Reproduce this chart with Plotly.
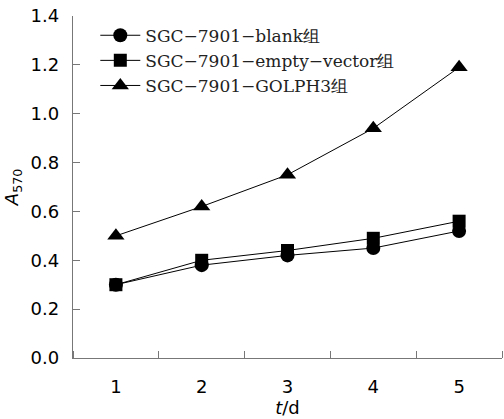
import plotly.graph_objects as go

days = [1, 2, 3, 4, 5]
names = ["SGC−7901−blank组", "SGC−7901−empty−vector组", "SGC−7901−GOLPH3组"]
blank = [0.30, 0.38, 0.42, 0.45, 0.52]
empty_vector = [0.30, 0.40, 0.44, 0.49, 0.56]
golph3 = [0.50, 0.62, 0.75, 0.94, 1.19]
y_ticks = [0.0, 0.2, 0.4, 0.6, 0.8, 1.0, 1.2, 1.4]

series = [(names[0], blank, "circle", 14), (names[1], empty_vector, "square", 13), (names[2], golph3, "triangle-up", 15)]

fig = go.Figure()
for nm, vals, sym, sz in series:
    fig.add_trace(go.Scatter(x=days, y=vals, name=nm, mode="lines+markers",
                             line=dict(color="black", width=1),
                             marker=dict(symbol=sym, size=sz, color="black")))

axcol = "#777"
fig.update_layout(
    width=504, height=419, margin=dict(l=73, r=2, t=16, b=61),
    plot_bgcolor="white", paper_bgcolor="white",
    font=dict(family="DejaVu Sans", size=18, color="black"),
    showlegend=True,
    legend=dict(x=0.052, y=0.995, xanchor="left", yanchor="top",
                font=dict(family="DejaVu Serif", size=17, color="#222"),
                bgcolor="rgba(0,0,0,0)", tracegroupgap=0, itemwidth=40),
    xaxis=dict(range=[0.5, 5.5], tickmode="array", tickvals=days, ticktext=[str(d) for d in days],
               ticks="", showgrid=False, zeroline=False, ticklabelstandoff=12,
               showline=True, linecolor=axcol, linewidth=1.4,
               minor=dict(tick0=0.5, dtick=1, ticks="inside", ticklen=7, tickcolor=axcol, tickwidth=1.2, showgrid=False),
               title=dict(text="<i>t</i>/d", standoff=4, font=dict(size=18))),
    yaxis=dict(range=[0, 1.4], tickmode="array", tickvals=y_ticks, ticktext=[f"{v:.1f}" for v in y_ticks],
               ticks="inside", ticklen=7, tickcolor=axcol, tickwidth=1.2, ticklabelstandoff=9,
               showgrid=False, zeroline=False, showline=True, linecolor=axcol, linewidth=1.4,
               title=dict(text="<i>A</i><sub>570</sub>", standoff=7, font=dict(size=18))),
)

fig.write_html("out.html")
